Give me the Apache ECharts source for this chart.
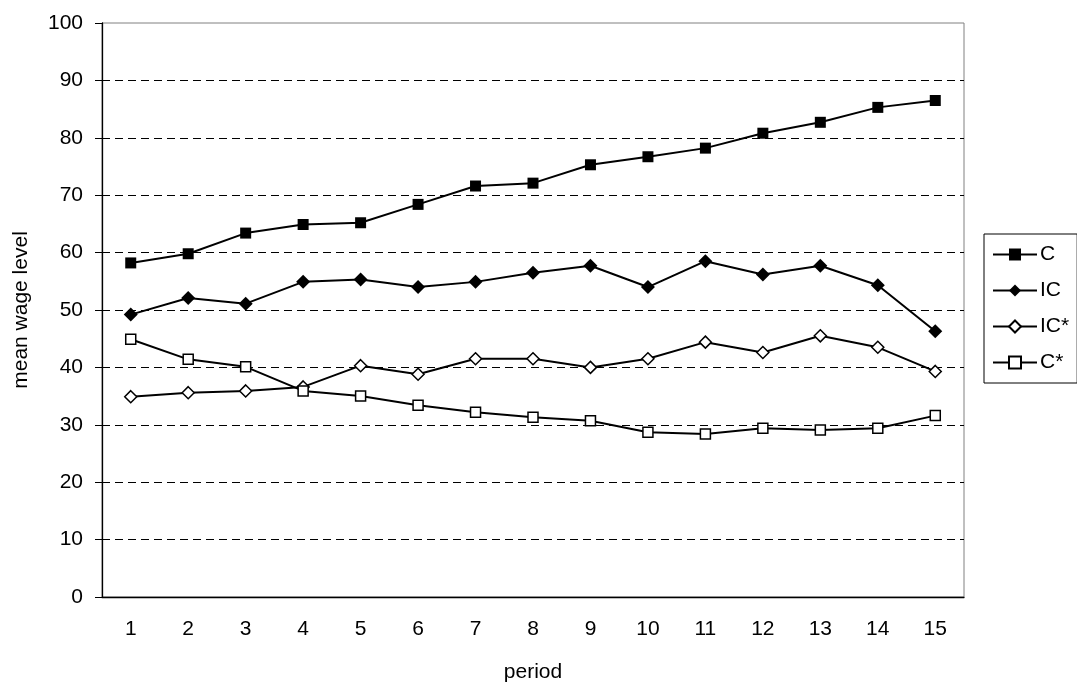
<!DOCTYPE html>
<html>
<head>
    <meta charset="utf-8">
    <script src="https://cdn.jsdelivr.net/npm/echarts@6/dist/echarts.min.js"></script>
</head>
<body style="margin:0">
<div id="main" style="width:1077px;height:688px;background:#fff"></div>
<script type="text/javascript">
    var periods = ['1', '2', '3', '4', '5', '6', '7', '8', '9', '10', '11', '12', '13', '14', '15'];
    var cVals = [58.2, 59.8, 63.4, 64.9, 65.2, 68.4, 71.6, 72.1, 75.3, 76.7, 78.2, 80.8, 82.7, 85.3, 86.5];
    var icVals = [49.2, 52.1, 51.1, 54.9, 55.3, 54.0, 54.9, 56.5, 57.7, 54.0, 58.5, 56.2, 57.7, 54.3, 46.3];
    var icStarVals = [34.9, 35.6, 35.9, 36.6, 40.3, 38.8, 41.5, 41.5, 40.0, 41.5, 44.4, 42.6, 45.5, 43.5, 39.3];
    var cStarVals = [44.9, 41.4, 40.1, 35.9, 35.0, 33.4, 32.2, 31.3, 30.7, 28.7, 28.4, 29.4, 29.1, 29.4, 31.6];

    var font = 'Liberation Sans, Arial, sans-serif';
    var myChart = echarts.init(document.getElementById('main'));

    function line(name, data, symbol, size, filled) {
        return {
            name: name,
            type: 'line',
            data: data,
            symbol: symbol,
            symbolSize: size,
            showAllSymbol: true,
            animation: false,
            lineStyle: {color: '#000', width: 2},
            itemStyle: {
                color: filled ? '#000' : '#fff',
                borderColor: '#000',
                borderWidth: filled ? 0 : 1.5
            }
        };
    }

    var option = {
        animation: false,
        textStyle: {fontFamily: font},
        grid: {
            left: 102, right: 113, top: 23, bottom: 89,
            show: true, borderColor: '#808080', borderWidth: 1
        },
        legend: {
            orient: 'vertical',
            left: 984,
            top: 234,
            padding: [10, 8, 10, 8],
            itemGap: 15,
            itemWidth: 44,
            itemHeight: 15,
            borderColor: '#000',
            borderWidth: 1,
            borderRadius: 0,
            textStyle: {fontFamily: font, fontSize: 21, color: '#000', padding: [0, 0, 0, -2]},
            data: ['C', 'IC', 'IC*', 'C*']
        },
        xAxis: {
            type: 'category',
            data: periods,
            boundaryGap: true,
            name: 'period',
            nameLocation: 'middle',
            nameGap: 65,
            nameTextStyle: {fontFamily: font, fontSize: 21, color: '#000'},
            axisLine: {lineStyle: {color: '#000', width: 1.3}},
            axisTick: {length: 6, lineStyle: {color: '#000'}},
            axisLabel: {fontFamily: font, fontSize: 21, color: '#000', margin: 22}
        },
        yAxis: {
            type: 'value',
            min: 0,
            max: 100,
            interval: 10,
            name: 'mean wage level',
            nameLocation: 'middle',
            nameGap: 70,
            nameTextStyle: {fontFamily: font, fontSize: 21, color: '#000'},
            axisLine: {show: true, lineStyle: {color: '#000', width: 1.3}},
            axisTick: {show: true, length: 7, lineStyle: {color: '#000'}},
            axisLabel: {fontFamily: font, fontSize: 21, color: '#000', margin: 19},
            splitLine: {
                show: true,
                showMaxLine: false,
                lineStyle: {color: '#000', width: 1, type: [8, 5]}
            }
        },
        series: [
            line('C', cVals, 'rect', 11, true),
            line('IC', icVals, 'diamond', 14, true),
            line('IC*', icStarVals, 'diamond', 12, false),
            line('C*', cStarVals, 'rect', 10, false)
        ]
    };

    myChart.setOption(option);
</script>
</body>
</html>
